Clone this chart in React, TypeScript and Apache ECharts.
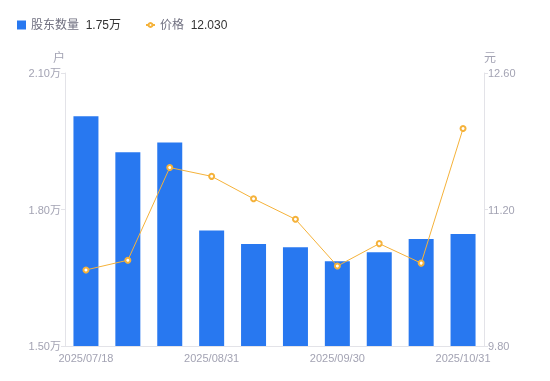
import React, { useEffect, useRef } from "react";
import * as echarts from "echarts";

const dates = [
  "2025/07/18",
  "2025/07/31",
  "2025/08/15",
  "2025/08/31",
  "2025/09/10",
  "2025/09/19",
  "2025/09/30",
  "2025/10/10",
  "2025/10/20",
  "2025/10/31",
];
const holders = [2.005, 1.926, 1.947, 1.754, 1.724, 1.717, 1.686, 1.706, 1.735, 1.746];
const prices = [10.58, 10.68, 11.63, 11.54, 11.31, 11.1, 10.62, 10.85, 10.65, 12.03];
const legendValues: Record<string, string> = {
  "股东数量": "1.75万",
  "价格": "12.030",
};

const FONT = "'Liberation Sans', 'Noto Sans CJK SC', sans-serif";
const AXIS_LABEL = "#a3a3b3";
const AXIS_LINE = "#e3e3e8";

const legendText = {
  fontFamily: FONT,
  rich: {
    n: { color: "#707080", fontSize: 12, fontFamily: FONT },
    v: { color: "#333333", fontSize: 12, fontFamily: FONT },
  },
};
const legendFormatter = (name: string) => `{n|${name}}  {v|${legendValues[name]}}`;

export default function App() {
  const ref = useRef<HTMLDivElement>(null);
  useEffect(() => {
    if (!ref.current) return;
    const chart = echarts.init(ref.current, undefined, { renderer: "svg" });
    chart.setOption({
      animation: false,
      textStyle: { fontFamily: FONT },
      legend: [
        {
          left: 12,
          top: 14,
          itemWidth: 9,
          itemHeight: 9,
          data: [{ name: "股东数量", icon: "rect" }],
          formatter: legendFormatter,
          textStyle: legendText,
        },
        {
          left: 140,
          top: 14,
          itemWidth: 9,
          itemHeight: 5,
          data: [{ name: "价格" }],
          formatter: legendFormatter,
          textStyle: legendText,
        },
      ],
      grid: { left: 65, right: 66, top: 73, bottom: 35 },
      xAxis: {
        type: "category",
        data: dates,
        axisLine: { lineStyle: { color: AXIS_LINE } },
        axisTick: { show: false },
        axisLabel: {
          interval: 2,
          color: AXIS_LABEL,
          fontSize: 11,
          margin: 6,
          fontFamily: FONT,
        },
      },
      yAxis: [
        {
          type: "value",
          name: "户",
          nameGap: 9,
          nameTextStyle: { color: AXIS_LABEL, fontSize: 12, align: "right", fontFamily: FONT },
          min: 1.5,
          max: 2.1,
          interval: 0.3,
          axisLine: { show: true, lineStyle: { color: AXIS_LINE } },
          axisTick: { show: true, length: 4, lineStyle: { color: AXIS_LINE } },
          splitLine: { show: false },
          axisLabel: {
            color: AXIS_LABEL,
            fontSize: 11,
            margin: 4,
            fontFamily: FONT,
            formatter: (v: number) => v.toFixed(2) + "万",
          },
        },
        {
          type: "value",
          name: "元",
          nameGap: 9,
          nameTextStyle: { color: AXIS_LABEL, fontSize: 12, align: "left", fontFamily: FONT },
          min: 9.8,
          max: 12.6,
          interval: 1.4,
          axisLine: { show: true, lineStyle: { color: AXIS_LINE } },
          axisTick: { show: true, length: 4, lineStyle: { color: AXIS_LINE } },
          splitLine: { show: false },
          axisLabel: {
            color: AXIS_LABEL,
            fontSize: 11,
            margin: 4,
            fontFamily: FONT,
            formatter: (v: number) => v.toFixed(2),
          },
        },
      ],
      series: [
        {
          name: "股东数量",
          type: "bar",
          yAxisIndex: 0,
          data: holders,
          barWidth: 25,
          itemStyle: { color: "#2878f0" },
        },
        {
          name: "价格",
          type: "line",
          yAxisIndex: 1,
          data: prices,
          symbol: "emptyCircle",
          symbolSize: 5,
          lineStyle: { color: "#f5b23a", width: 1 },
          itemStyle: { color: "#f5b23a", borderWidth: 2 },
        },
      ],
    });
    return () => chart.dispose();
  }, []);
  return (
    <div
      ref={ref}
      style={{ position: "fixed", left: 0, top: 0, width: 550, height: 381 }}
    />
  );
}
